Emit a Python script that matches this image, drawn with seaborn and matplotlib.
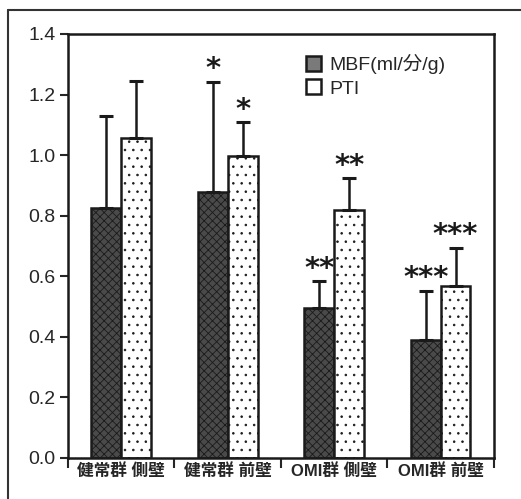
import matplotlib
matplotlib.use("Agg")
import matplotlib.pyplot as plt
import matplotlib.lines as mlines
import seaborn as sns
import pandas as pd
import numpy as np

sns.set_theme(style="ticks")
plt.rcParams['font.family'] = ['Liberation Sans', 'Noto Sans CJK JP', 'DejaVu Sans']
plt.rcParams['hatch.linewidth'] = 0.6

groups = ["健常群 側壁", "健常群 前壁", "OMI群 側壁", "OMI群 前壁"]
series = ["MBF(ml/分/g)", "PTI"]
mbf = [0.825, 0.878, 0.495, 0.39]
mbf_sd = [0.305, 0.365, 0.089, 0.161]
pti = [1.056, 0.997, 0.82, 0.568]
pti_sd = [0.188, 0.112, 0.104, 0.125]
mbf_sig = ["", "*", "**", "***"]
pti_sig = ["", "*", "**", "***"]

df = pd.DataFrame({
    "group": groups * 2,
    "series": [series[0]] * 4 + [series[1]] * 4,
    "value": mbf + pti,
    "sd": mbf_sd + pti_sd,
    "sig": mbf_sig + pti_sig,
})

fig = plt.figure(figsize=(5.21, 4.99), dpi=100)
ax = fig.add_axes([0.1305, 0.0822, 0.8175, 0.8497])

sns.barplot(data=df, x="group", y="value", hue="series", order=groups,
            hue_order=series, palette=["#4a4a4a", "white"], width=0.56,
            gap=0, edgecolor="#1a1a1a", linewidth=1.8, errorbar=None, ax=ax)

hatches = {series[0]: "xxxx", series[1]: ".."}
bars = [p for p in ax.patches if p.get_height() > 0]
for i, p in enumerate(bars[:8]):
    row = df.iloc[i]
    p.set_hatch(hatches[row["series"]])
    xc = p.get_x() + p.get_width() / 2
    top = p.get_height()
    ax.errorbar(xc, top, yerr=[[0], [row["sd"]]], fmt="none", ecolor="#1a1a1a",
                elinewidth=1.8, capsize=5, capthick=2.2)
    if row["sig"]:
        ax.annotate(row["sig"], (xc, top + row["sd"]), xytext=(0, -1),
                    textcoords="offset points", ha="center", va="bottom",
                    fontsize=21, fontweight="bold", color="#1a1a1a",
                    family="DejaVu Sans")

ax.set_ylim(0, 1.4)
ax.set_xlim(-0.5, 3.5)
ax.set_yticks(np.arange(0, 1.41, 0.2))
ax.set_yticklabels([f"{v:.1f}" for v in np.arange(0, 1.41, 0.2)], fontsize=14)
ax.set_xticks(range(4))
ax.set_xticklabels(groups, fontsize=12, fontweight="bold")
ax.tick_params(axis="x", which="major", length=0, pad=4)
ax.set_xticks(np.arange(-0.5, 3.6, 1), minor=True)
ax.tick_params(axis="x", which="minor", length=7, width=1.5, direction="out")
ax.tick_params(axis="y", length=6, width=1.5, direction="out", pad=3)
ax.set_xlabel("")
ax.set_ylabel("")
for s in ax.spines.values():
    s.set_linewidth(1.8)
    s.set_color("#1a1a1a")

leg = ax.legend(loc="upper left", bbox_to_anchor=(0.54, 0.97), frameon=False,
                fontsize=14, handlelength=0.8, handleheight=0.8,
                handletextpad=0.4, labelspacing=0.25, borderaxespad=0)
leg.get_patches()[0].set_facecolor("#7a7a7a")
leg.get_patches()[0].set_hatch(None)
leg.get_patches()[1].set_hatch(None)

fig.add_artist(mlines.Line2D([8 / 521, 8 / 521], [0, 1 - 10 / 499],
                             transform=fig.transFigure, color="#333333", lw=1.5))
fig.add_artist(mlines.Line2D([8 / 521, 1], [1 - 10 / 499, 1 - 10 / 499],
                             transform=fig.transFigure, color="#333333", lw=1.5))

fig.savefig("out.png", dpi=100)
